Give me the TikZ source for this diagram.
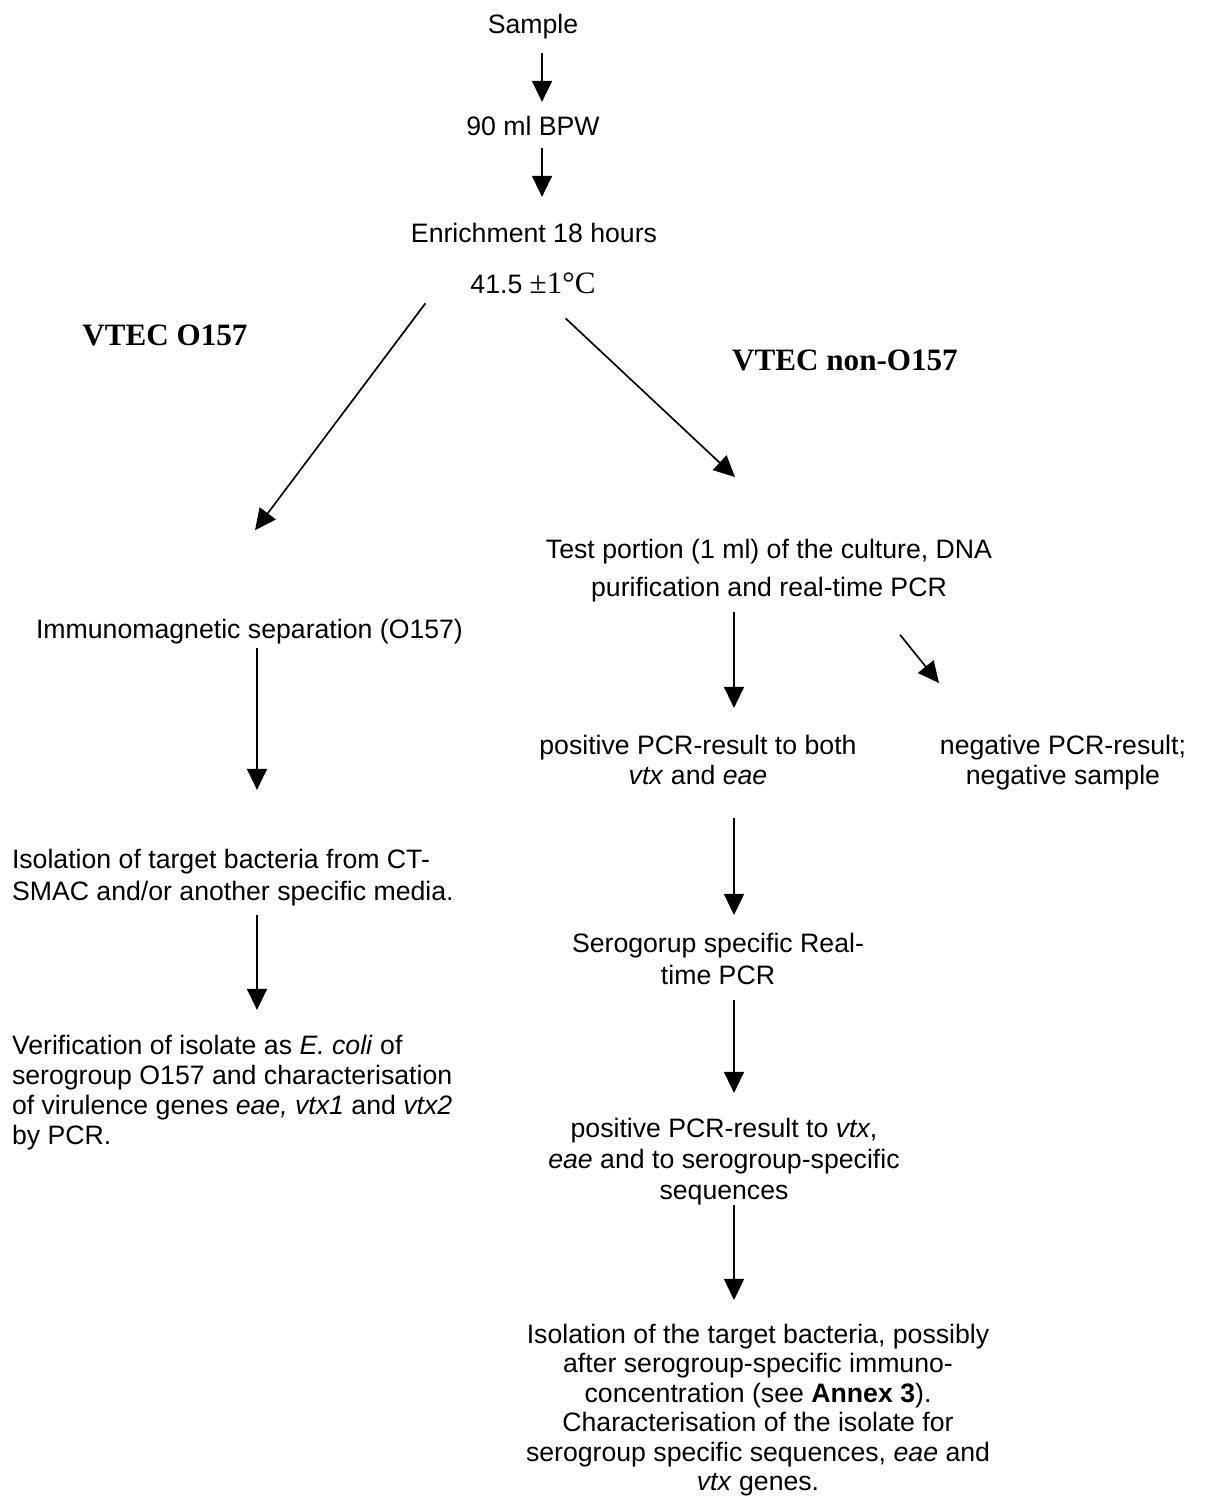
\documentclass[tikz,border=0pt]{standalone}
\usepackage{fontspec}
\setmainfont{Liberation Sans}
\newfontfamily\serifhead{Liberation Serif}
\usepackage{tikz}
\usetikzlibrary{arrows.meta}

\tikzset{
  txt/.style={inner sep=0pt, outer sep=0pt, font=\fontsize{12}{13.5}\selectfont},
  head/.style={inner sep=0pt, outer sep=0pt, font=\serifhead\bfseries\fontsize{14}{16}\selectfont},
  flow/.style={-{Triangle[length=9.5pt,width=9pt]}, line width=0.75pt},
}

\begin{document}
\begin{tikzpicture}[x=0.45pt, y=-0.45pt]
\useasboundingbox (0,0) rectangle (1219,1496);
\coordinate (tcol) at (542,0);
\coordinate (lcol) at (257,0);
\coordinate (mcol) at (734,0);

\node[txt, anchor=base] (sample) at (533,33) {Sample};
\node[txt, anchor=base] (bpw) at (533,135) {90 ml BPW};
\node[txt, anchor=base] (enrich) at (534,242) {Enrichment 18 hours};
\node[txt, anchor=base] (temp) at (533,293) {41.5 {\serifhead\fontsize{14}{15}\selectfont ±1°C}};

\node[head, anchor=base] (o157) at (165,345) {VTEC O157};
\node[head, anchor=base] (non) at (845,370) {VTEC non-O157};

\node[txt, anchor=north, align=center] (test) at (769,539.5) {Test portion (1 ml) of the culture, DNA\\[3.6pt]purification and real-time PCR};
\node[txt, anchor=base] (immuno) at (249.5,638) {Immunomagnetic separation (O157)};

\node[txt, anchor=north west, align=left, font=\fontsize{12}{14.4}\selectfont] (isol) at (12,848.8) {Isolation of target bacteria from CT-\\SMAC and/or another specific media.};
\node[txt, anchor=north west, align=left] (verif) at (12,1034.8) {Verification of isolate as \textit{E. coli} of\\serogroup O157 and characterisation\\of virulence genes \textit{eae, vtx1} and \textit{vtx2}\\by PCR.};

\node[txt, anchor=north, align=center] (pos1) at (698,734.8) {positive PCR-result to both\\\textit{vtx} and \textit{eae}};
\node[txt, anchor=north, align=center] (neg) at (1063,734.8) {negative PCR-result;\\negative sample};
\node[txt, anchor=north, align=center, font=\fontsize{12}{14.4}\selectfont] (sero) at (718,932.8) {Serogorup specific Real-\\time PCR};
\node[txt, anchor=north, align=center, font=\fontsize{12}{13.95}\selectfont] (pos2) at (724,1117.8) {positive PCR-result to \textit{vtx},\\\textit{eae} and to serogroup-specific\\sequences};
\node[txt, anchor=north, align=center, font=\fontsize{12}{13.3}\selectfont] (final) at (758,1323.8) {Isolation of the target bacteria, possibly\\after serogroup-specific immuno-\\concentration (see \textbf{Annex 3}).\\Characterisation of the isolate for\\serogroup specific sequences, \textit{eae} and\\\textit{vtx} genes.};

\draw[flow, shorten <=6.5pt, shorten >=6.2pt] (sample.south -| tcol) -- (bpw.north -| tcol);
\draw[flow, shorten <=5.9pt, shorten >=11.6pt] (bpw.south -| tcol) -- (enrich.north -| tcol);
\draw[flow] ([xshift=-20.25pt,yshift=-4.5pt]temp.south west) -- ([xshift=2.5pt,yshift=39.8pt]immuno.north);
\draw[flow] ([xshift=-13.5pt,yshift=-11.25pt]temp.south east) -- ([xshift=-15.3pt,yshift=28.1pt]test.north);

\draw[flow, shorten <=2pt, shorten >=26.5pt] (immuno.south -| lcol) -- (isol.north -| lcol);
\draw[flow, shorten <=4.2pt, shorten >=11.2pt] (isol.south -| lcol) -- (verif.north -| lcol);

\draw[flow, shorten <=4.2pt, shorten >=12.1pt] (test.south -| mcol) -- (pos1.north -| mcol);
\draw[flow] ([xshift=-41.4pt,yshift=-14.6pt]test.south east) -- ([xshift=-0.45pt,yshift=23.3pt]neg.north west);
\draw[flow, shorten <=15.3pt, shorten >=8pt] (pos1.south -| mcol) -- (sero.north -| mcol);
\draw[flow, shorten <=7.2pt, shorten >=11.2pt] (sero.south -| mcol) -- (pos2.north -| mcol);
\draw[flow, shorten <=0.3pt, shorten >=10.7pt] (pos2.south -| mcol) -- (final.north -| mcol);
\end{tikzpicture}
\end{document}
